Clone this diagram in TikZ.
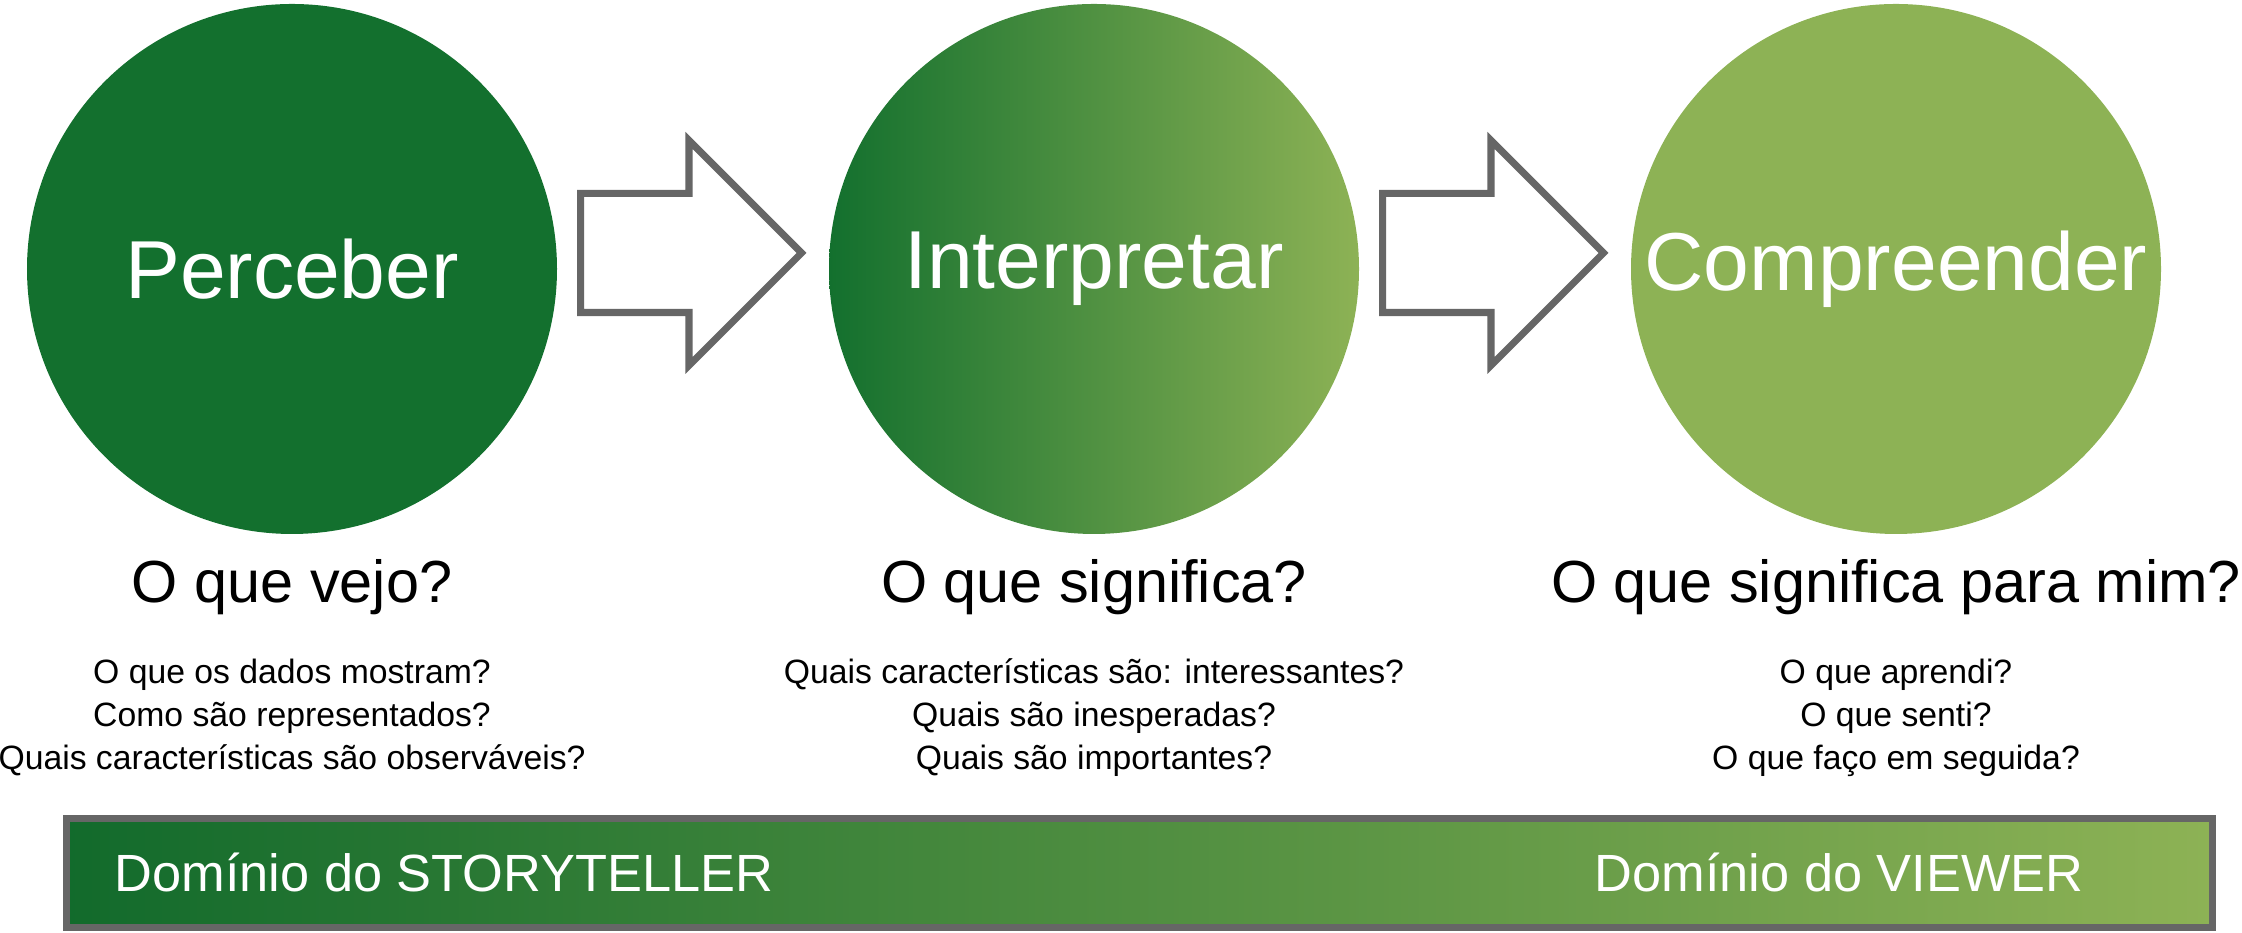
\documentclass[tikz,border=0pt]{standalone}
\usepackage{fontspec}
\setmainfont{Liberation Sans}
\usetikzlibrary{shapes.arrows}
\definecolor{darkgreen}{RGB}{19,112,46}
\definecolor{lightgreen}{RGB}{141,178,85}
\definecolor{framegray}{RGB}{102,102,102}
\tikzset{
  stage/.style={circle,minimum size=5.3cm,inner sep=0pt,text=white,font=\fontsize{23.4}{28}\selectfont},
  question/.style={anchor=base,inner sep=0pt,font=\fontsize{16.9}{20}\selectfont},
  detail/.style={anchor=north,align=center,inner sep=0pt,font=\fontsize{9.6}{12.23}\selectfont},
  flow/.style={single arrow,anchor=tail,draw=framegray,fill=white,line width=2pt,minimum height=2.21cm,inner xsep=0pt,inner ysep=0.56cm,single arrow head extend=0.53cm},
  domainlabel/.style={anchor=base west,text=white,inner sep=0pt,font=\fontsize{14.9}{18}\selectfont}
}
\begin{document}
\begin{tikzpicture}
\useasboundingbox (0,0) rectangle (22.42,9.33);
\node[stage,fill=darkgreen] (perceber) at (2.92,6.64) {Perceber};
\node[stage,left color=darkgreen,right color=lightgreen] (interpretar) at (10.94,6.64) {Interpretar};
\node[stage,fill=lightgreen] (compreender) at (18.96,6.64) {Compreender};
\node[flow] (arrA) at (5.77,6.80) {};
\node[flow] (arrB) at (13.79,6.80) {};
\node[question] (qA) at (2.92,3.30) {O que vejo?};
\node[question] (qB) at (10.94,3.30) {O que significa?};
\node[question] (qC) at (18.96,3.30) {O que significa para mim?};
\node[detail] (dA) at (2.92,2.75) {O que os dados mostram?\\Como são representados?\\Quais características são observáveis?};
\node[detail] (dB) at (10.94,2.75) {Quais características são: interessantes?\\Quais são inesperadas?\\Quais são importantes?};
\node[detail] (dC) at (18.96,2.75) {O que aprendi?\\O que senti?\\O que faço em seguida?};
\node[draw=framegray,line width=2pt,minimum width=21.46cm,minimum height=1.09cm,inner sep=0pt,left color=darkgreen!95!black,right color=lightgreen] (bar) at (11.395,0.60) {};
\node[domainlabel] (storyteller) at (1.14,0.41) {Domínio do STORYTELLER};
\node[domainlabel] (viewer) at (15.94,0.41) {Domínio do VIEWER};
\end{tikzpicture}
\end{document}
